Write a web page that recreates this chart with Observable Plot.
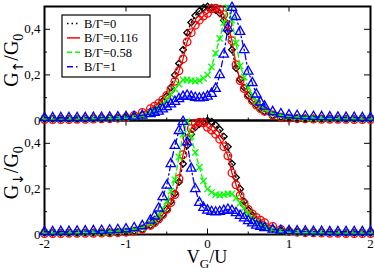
<!DOCTYPE html>
<html><head><meta charset="utf-8">
<script src="https://cdn.jsdelivr.net/npm/d3@7"></script>
<script src="https://cdn.jsdelivr.net/npm/@observablehq/plot@0.6"></script>
<style>body{margin:0;background:#fff}#chart{width:374px;height:272px}</style>
</head><body><div id="chart"></div>
<script>
// gate voltage grid V_G/U
const vg = [-2,-1.9,-1.8,-1.7,-1.6,-1.5,-1.4,-1.3,-1.2,-1.1,-1,-0.9,-0.8,
  -0.7,-0.65,-0.6,-0.55,-0.5,-0.45,-0.4,-0.35,-0.3,-0.25,-0.2,-0.15,-0.1,-0.05,0,
  0.05,0.1,0.15,0.2,0.25,0.3,0.35,0.4,0.45,0.5,0.55,0.6,0.65,0.7,
  0.8,0.9,1,1.1,1.2,1.3,1.4,1.5,1.6,1.7,1.8,1.9,2];
const seriesNames = ["B/Γ=0","B/Γ=0.116","B/Γ=0.58","B/Γ=1"];
// spin down conductance G↓/G0 (lower panel)
const gDown0 = [0.008,0.008,0.008,0.008,0.008,0.009,0.009,0.009,0.01,0.011,0.012,0.016,0.022,
  0.04,0.052,0.068,0.087,0.11,0.145,0.18,0.23,0.31,0.39,0.44,0.47,0.485,0.495,0.5,
  0.495,0.48,0.46,0.43,0.385,0.31,0.25,0.2,0.145,0.107,0.085,0.065,0.05,0.04,
  0.025,0.016,0.012,0.011,0.01,0.009,0.009,0.009,0.008,0.008,0.008,0.008,0.008];
const gDown1 = [0.004,0.004,0.004,0.005,0.005,0.005,0.005,0.006,0.007,0.008,0.01,0.015,0.024,
  0.04,0.052,0.068,0.087,0.11,0.14,0.175,0.245,0.35,0.42,0.465,0.487,0.493,0.49,0.47,
  0.458,0.44,0.418,0.385,0.345,0.27,0.218,0.172,0.135,0.11,0.09,0.075,0.063,0.052,
  0.035,0.022,0.014,0.01,0.008,0.007,0.006,0.005,0.005,0.004,0.004,0.004,0.004];
const gDown2 = [0.008,0.008,0.008,0.009,0.009,0.009,0.01,0.011,0.012,0.014,0.017,0.022,0.03,
  0.05,0.063,0.085,0.112,0.145,0.19,0.24,0.34,0.44,0.495,0.43,0.36,0.295,0.235,0.2,
  0.185,0.175,0.173,0.175,0.178,0.178,0.16,0.138,0.115,0.092,0.07,0.053,0.041,0.033,
  0.022,0.016,0.013,0.011,0.01,0.009,0.009,0.008,0.008,0.008,0.008,0.008,0.008];
const gDown3 = [0.012,0.012,0.013,0.013,0.014,0.015,0.016,0.017,0.019,0.021,0.024,0.029,0.038,
  0.062,0.08,0.115,0.165,0.215,0.31,0.39,0.455,0.495,0.405,0.29,0.2,0.14,0.118,0.106,
  0.1,0.098,0.1,0.105,0.11,0.105,0.095,0.083,0.072,0.06,0.05,0.04,0.034,0.029,
  0.022,0.018,0.016,0.015,0.014,0.013,0.013,0.012,0.012,0.012,0.012,0.012,0.012];
// spin up conductance G↑/G0 (upper panel)
const gUp0 = [0.008,0.008,0.008,0.008,0.008,0.009,0.009,0.009,0.01,0.011,0.012,0.016,0.025,
  0.04,0.05,0.065,0.085,0.107,0.145,0.2,0.25,0.31,0.385,0.43,0.46,0.48,0.495,0.5,
  0.495,0.485,0.47,0.44,0.39,0.31,0.23,0.18,0.145,0.11,0.087,0.068,0.052,0.04,
  0.022,0.016,0.012,0.011,0.01,0.009,0.009,0.009,0.008,0.008,0.008,0.008,0.008];
const gUp1 = [0.004,0.004,0.004,0.004,0.005,0.005,0.006,0.007,0.008,0.01,0.014,0.022,0.035,
  0.052,0.063,0.075,0.09,0.11,0.135,0.172,0.218,0.27,0.345,0.385,0.418,0.44,0.458,0.47,
  0.49,0.493,0.487,0.465,0.42,0.35,0.245,0.175,0.14,0.11,0.087,0.068,0.052,0.04,
  0.024,0.015,0.01,0.008,0.007,0.006,0.005,0.005,0.005,0.005,0.004,0.004,0.004];
const gUp2 = [0.008,0.008,0.008,0.008,0.008,0.008,0.009,0.009,0.01,0.011,0.013,0.016,0.022,
  0.033,0.041,0.053,0.07,0.092,0.115,0.138,0.16,0.178,0.178,0.175,0.173,0.175,0.185,0.2,
  0.235,0.295,0.36,0.43,0.495,0.44,0.34,0.24,0.19,0.145,0.112,0.085,0.063,0.05,
  0.03,0.022,0.017,0.014,0.012,0.011,0.01,0.009,0.009,0.009,0.008,0.008,0.008];
const gUp3 = [0.012,0.012,0.012,0.012,0.012,0.012,0.013,0.013,0.014,0.015,0.016,0.018,0.022,
  0.029,0.034,0.04,0.05,0.06,0.072,0.083,0.095,0.105,0.11,0.105,0.1,0.098,0.1,0.106,
  0.118,0.14,0.2,0.29,0.405,0.495,0.455,0.39,0.31,0.215,0.165,0.115,0.08,0.062,
  0.038,0.029,0.024,0.021,0.019,0.017,0.016,0.015,0.014,0.013,0.013,0.012,0.012];
const xTicks = [-2,-1,0,1,2];
const xMinor = [-1.5,-0.5,0.5,1.5];
const yTicks = [0,0.2,0.4];
const yMinor = [0.1,0.3];

const colors = ["#000000","#ff0000","#00ff00","#0000ff"];
const dashes = ["1.5,3", null, "5,3", "6,3,1.5,3"];
const symbols = ["diamond2","circle","times","triangle"];
const radii = [3,3.8,3,3.5];

const panels = [["up",[gUp0,gUp1,gUp2,gUp3]],["down",[gDown0,gDown1,gDown2,gDown3]]];
const rows = [];
for (const [panel, arrs] of panels)
  arrs.forEach((arr, s) => arr.forEach((g, i) => rows.push({panel, s, V: vg[i], G: g})));

const width = 374, height = 272, mL = 44, mR = 4, mT = 5, mB = 38;
const W = width - mL - mR, H = (height - mT - mB) / 2;

const seriesMarks = [];
seriesNames.forEach((name, s) => {
  const d = rows.filter(r => r.s === s);
  seriesMarks.push(Plot.line(d, {x: "V", y: "G", fy: "panel", z: "panel", stroke: colors[s], strokeWidth: 1.3, strokeDasharray: dashes[s]}));
  seriesMarks.push(Plot.dot(d, {x: "V", y: "G", fy: "panel", symbol: symbols[s], r: radii[s], stroke: colors[s], fill: "none", strokeWidth: 1.3}));
});

const chart = Plot.plot({
  width, height, marginLeft: mL, marginRight: mR, marginTop: mT, marginBottom: mB,
  style: {fontFamily: "'Liberation Serif', 'Times New Roman', serif", fontSize: "13px", color: "black", background: "white"},
  x: {domain: [-2, 2]},
  y: {domain: [0, 0.5]},
  fy: {domain: ["up", "down"], padding: 0, axis: null, label: null},
  marks: [
    Plot.axisX(xTicks, {tickSize: 0, tickPadding: 4, label: null, tickFormat: d => d < 0 ? "-" + (-d) : String(d)}),
    Plot.axisY(yTicks, {tickSize: 0, tickPadding: 4, label: null, tickFormat: d => d === 0 ? "0" : d.toFixed(1).replace(".", ",")}),
    // inward ticks
    Plot.tickY(yTicks.filter(d => d > 0), {y: d => d, insetRight: W - 6, stroke: "black"}),
    Plot.tickY(yTicks.filter(d => d > 0), {y: d => d, insetLeft: W - 6, stroke: "black"}),
    Plot.tickY(yMinor, {y: d => d, insetRight: W - 3, stroke: "black"}),
    Plot.tickY(yMinor, {y: d => d, insetLeft: W - 3, stroke: "black"}),
    Plot.tickX(xTicks.slice(1, -1), {x: d => d, insetTop: H - 6, stroke: "black"}),
    Plot.tickX(xMinor, {x: d => d, insetTop: H - 3, stroke: "black"}),
    Plot.tickX(xTicks.slice(1, -1), {x: d => d, insetBottom: H - 6, stroke: "black"}),
    Plot.frame({stroke: "black", strokeWidth: 2}),
    ...seriesMarks
  ]
});
document.getElementById("chart").appendChild(chart);

const svg = d3.select(chart);
const serif = "'Liberation Serif', 'Times New Roman', serif";
function yLabel(cy, arrow) {
  const t = svg.append("text").attr("transform", `translate(18,${cy}) rotate(-90)`)
    .attr("text-anchor", "middle").attr("font-family", serif).attr("font-size", 20).attr("fill", "black");
  t.append("tspan").text("G");
  t.append("tspan").attr("font-size", 14).attr("font-family", "'DejaVu Sans', sans-serif").attr("dy", 5).text(arrow);
  t.append("tspan").attr("dy", -5).text("/G");
  t.append("tspan").attr("font-size", 14).attr("dy", 5).text("0");
}
yLabel(mT + H / 2 - 2, "↑");
yLabel(mT + H * 1.5 - 4, "↓");
const xl = svg.append("text").attr("x", mL + W / 2).attr("y", 263)
  .attr("text-anchor", "middle").attr("font-family", serif).attr("font-size", 18).attr("fill", "black");
xl.append("tspan").text("V");
xl.append("tspan").attr("font-size", 13).attr("dy", 5).text("G");
xl.append("tspan").attr("dy", -5).text("/U");

// legend
const lg = svg.append("g");
lg.append("rect").attr("x", 62).attr("y", 15).attr("width", 88).attr("height", 62)
  .attr("fill", "white").attr("stroke", "black").attr("stroke-width", 1.2);
seriesNames.forEach((name, s) => {
  const y = 23.5 + s * 14.4;
  lg.append("line").attr("x1", 67).attr("x2", 80).attr("y1", y).attr("y2", y)
    .attr("stroke", colors[s]).attr("stroke-width", 1.5).attr("stroke-dasharray", dashes[s]);
  lg.append("text").attr("x", 84).attr("y", y + 4.3).attr("font-family", serif)
    .attr("text-anchor", "start").attr("font-size", 12.5).attr("fill", "black").text(name);
});
</script></body></html>
